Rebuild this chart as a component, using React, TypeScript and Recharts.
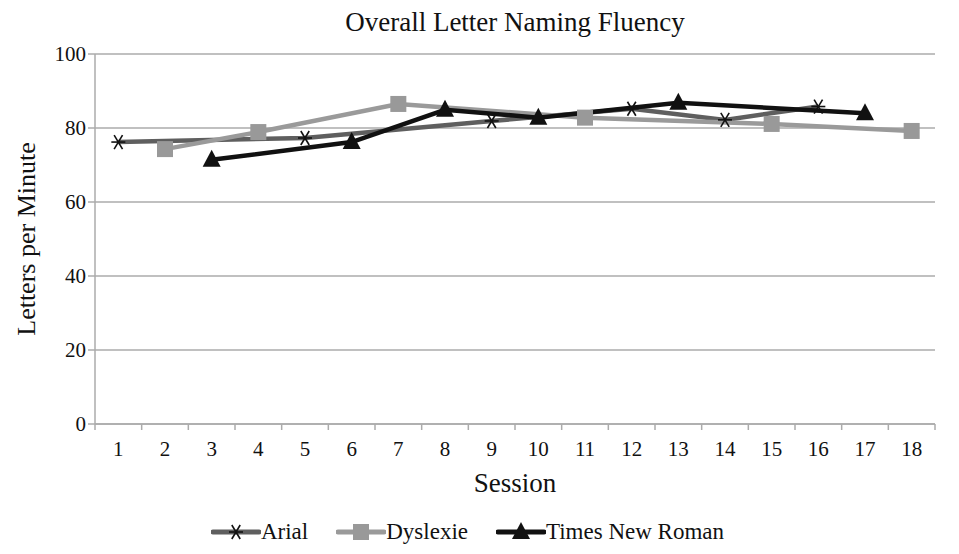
import { LineChart, Line, XAxis, YAxis, CartesianGrid, Legend, Label } from 'recharts'

const sessions = [1, 2, 3, 4, 5, 6, 7, 8, 9, 10, 11, 12, 13, 14, 15, 16, 17, 18]
const arial = [76.2, null, null, null, 77.3, null, null, null, 81.9, null, null, 85.2, null, 82.2, null, 85.8, null, null]
const dyslexie = [null, 74.3, null, 78.9, null, null, 86.5, null, null, null, 82.8, null, null, null, 81.1, null, null, 79.2]
const timesNewRoman = [null, null, 71.4, null, null, 76.2, null, 84.9, null, 82.8, null, null, 86.8, null, null, null, 84.0, null]

const xTicks = [0.5, ...sessions.flatMap((s) => [s, s + 0.5])]
const yTicks = [0, 20, 40, 60, 80, 100]

const data = sessions.map((s, i) => ({
  session: s,
  arial: arial[i],
  dyslexie: dyslexie[i],
  tnr: timesNewRoman[i],
}))

const FONT = '"Liberation Serif", "Times New Roman", serif'
const AXIS = '#ababab'

const Star = ({ cx, cy }: any) => {
  if (cx == null || cy == null) return null
  const r = 7
  return (
    <g stroke="#111" strokeWidth={1.6}>
      <line x1={cx - r} y1={cy} x2={cx + r} y2={cy} />
      <line x1={cx - r * 0.6} y1={cy - r} x2={cx + r * 0.6} y2={cy + r} />
      <line x1={cx + r * 0.6} y1={cy - r} x2={cx - r * 0.6} y2={cy + r} />
    </g>
  )
}

const Square = ({ cx, cy }: any) => {
  if (cx == null || cy == null) return null
  return <rect x={cx - 8} y={cy - 8} width={16} height={16} fill="#999" />
}

const Triangle = ({ cx, cy }: any) => {
  if (cx == null || cy == null) return null
  return <polygon points={`${cx},${cy - 10} ${cx + 9},${cy + 7} ${cx - 9},${cy + 7}`} fill="#111" />
}

const SessionTick = ({ x, y, payload }: any) => {
  const v = payload.value
  if (Number.isInteger(v)) {
    return (
      <text x={x} y={y + 24} textAnchor="middle" fontFamily={FONT} fontSize={21} fill="#111">
        {v}
      </text>
    )
  }
  return <line x1={x} y1={y - 8} x2={x} y2={y - 2} stroke={AXIS} strokeWidth={1.5} />
}

const legendItems = [
  { name: 'Arial', color: '#5f5f5f', Marker: Star },
  { name: 'Dyslexie', color: '#9a9a9a', Marker: Square },
  { name: 'Times New Roman', color: '#111', Marker: Triangle },
]

const renderLegend = () => (
  <div style={{ display: 'flex', justifyContent: 'center', gap: 28, marginTop: 5, fontFamily: FONT, fontSize: 23, color: '#111' }}>
    {legendItems.map(({ name, color, Marker }) => (
      <div key={name} style={{ display: 'flex', alignItems: 'center' }}>
        <svg width={50} height={26}>
          <line x1={2} y1={13} x2={48} y2={13} stroke={color} strokeWidth={5} strokeLinecap="round" />
          <Marker cx={25} cy={13} />
        </svg>
        <span>{name}</span>
      </div>
    ))}
  </div>
)

export default function App() {
  return (
    <div style={{ position: 'absolute', left: 0, top: 0, width: 959, height: 554, background: '#fff' }}>
      <div
        style={{
          position: 'absolute',
          left: 95,
          width: 840,
          top: 7,
          textAlign: 'center',
          fontFamily: FONT,
          fontSize: 27,
          color: '#111',
        }}
      >
        Overall Letter Naming Fluency
      </div>
      <LineChart width={959} height={554} data={data} margin={{ top: 54, right: 24, left: 0, bottom: 0 }}>
        <CartesianGrid vertical={false} stroke={AXIS} strokeWidth={1.5} />
        <XAxis
          dataKey="session"
          type="number"
          domain={[0.5, 18.5]}
          ticks={xTicks}
          interval={0}
          tick={<SessionTick />}
          tickLine={false}
          axisLine={{ stroke: AXIS, strokeWidth: 1.5 }}
          height={90}
        >
          <Label value="Session" position="insideBottom" offset={22} style={{ fontFamily: FONT, fontSize: 27, fill: '#111' }} />
        </XAxis>
        <YAxis
          domain={[0, 100]}
          ticks={yTicks}
          width={95}
          tick={{ fontFamily: FONT, fontSize: 21, fill: '#111' }}
          tickLine={{ stroke: AXIS, strokeWidth: 1.5 }}
          tickSize={7}
          axisLine={{ stroke: AXIS, strokeWidth: 1.5 }}
        >
          <Label
            value="Letters per Minute"
            angle={-90}
            position="insideLeft"
            offset={26}
            style={{ textAnchor: 'middle', fontFamily: FONT, fontSize: 26, fill: '#111' }}
          />
        </YAxis>
        <Legend verticalAlign="bottom" height={40} content={renderLegend} />
        <Line
          dataKey="arial"
          name="Arial"
          stroke="#5f5f5f"
          strokeWidth={4.5}
          connectNulls
          dot={<Star />}
          activeDot={false}
          isAnimationActive={false}
        />
        <Line
          dataKey="dyslexie"
          name="Dyslexie"
          stroke="#9a9a9a"
          strokeWidth={4.5}
          connectNulls
          dot={<Square />}
          activeDot={false}
          isAnimationActive={false}
        />
        <Line
          dataKey="tnr"
          name="Times New Roman"
          stroke="#111"
          strokeWidth={4.5}
          connectNulls
          dot={<Triangle />}
          activeDot={false}
          isAnimationActive={false}
        />
      </LineChart>
    </div>
  )
}
